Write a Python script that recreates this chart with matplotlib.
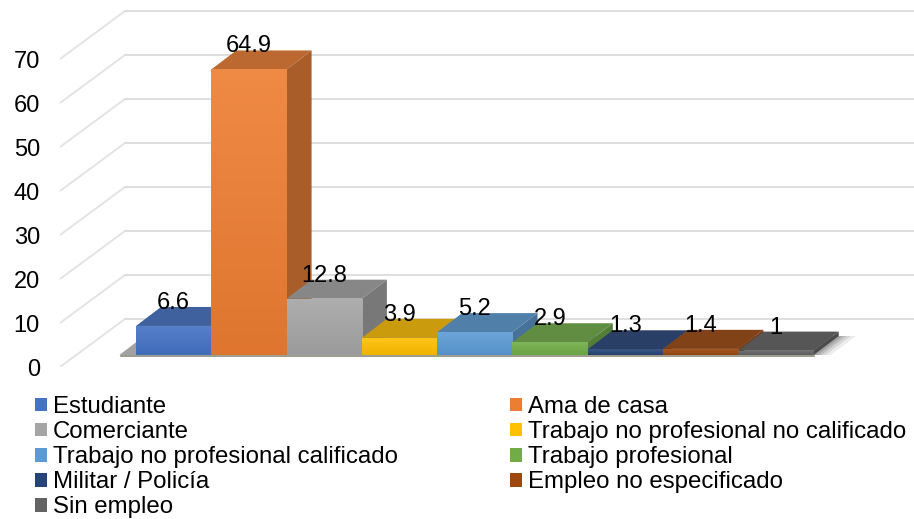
import numpy as np
import matplotlib
matplotlib.use("Agg")
import matplotlib.pyplot as plt
import matplotlib.patches as patches
from matplotlib.colors import to_rgb

plt.rcParams['font.family'] = ['Liberation Sans', 'DejaVu Sans']

categories = ["Estudiante", "Ama de casa", "Comerciante", "Trabajo no profesional no calificado",
              "Trabajo no profesional calificado", "Trabajo profesional", "Militar / Policía",
              "Empleo no especificado", "Sin empleo"]
values = [6.6, 64.9, 12.8, 3.9, 5.2, 2.9, 1.3, 1.4, 1]
value_labels = ["6.6", "64.9", "12.8", "3.9", "5.2", "2.9", "1.3", "1.4", "1"]
colors = ["#4472C4", "#ED7D31", "#A5A5A5", "#FFC000", "#5B9BD5", "#70AD47", "#264478", "#9E480E", "#636363"]
y_ticks = [0, 10, 20, 30, 40, 50, 60, 70]

# pixel scale of the picture
PX_X = 75.3  # one category
PX_Y = 4.4   # one unit of value
def dx(px):
    return px / PX_X
def dy(px):
    return px / PX_Y

fig = plt.figure(figsize=(9.14, 5.19), dpi=100)
ax = fig.add_axes([60 / 914, 152 / 519, 854 / 914, 367 / 519])
x0 = (60 - 173.65) / PX_X
x1 = (914 - 173.65) / PX_X

# walls
wall_x, wall_y = dx(65), dy(48)
for t in y_ticks:
    ax.plot([x0, x0 + wall_x], [t, t + wall_y], color="#e2e2e2", lw=1.3, zorder=1)
    ax.plot([x0 + wall_x, x1], [t + wall_y, t + wall_y], color="#dcdcdc", lw=1.3, zorder=1)

base = dy(12)      # bars stand this far behind the front edge
depth_x, depth_y = dx(25), dy(19)
x = np.arange(len(values))

# soft shadow on the floor
for grow, alpha in [(0.73, 0.10), (0.66, 0.15), (0.60, 0.20), (0.55, 0.25)]:
    s = patches.Polygon([(x[0] - 0.72, base), (x[-1] + grow, base),
                         (x[-1] + grow + depth_x, base + depth_y),
                         (x[0] - 0.72 + depth_x, base + depth_y)],
                        fc="#555555", ec="none", alpha=alpha, zorder=2)
    ax.add_patch(s)
ax.plot([x[0] - 0.7, x[-1] + 0.5], [base - 0.15, base - 0.15], color="#8a8a7a", lw=1.2, zorder=2)

for i, v in enumerate(values):
    c = np.array(to_rgb(colors[i]))
    z = 3 + i * 3
    left, right = i - 0.5, i + 0.5
    top = base + v
    ax.add_patch(patches.Polygon([(left, top), (right, top), (right + depth_x, top + depth_y),
                                  (left + depth_x, top + depth_y)], fc=c * 0.74 + 0.05, ec="none", zorder=z))
    ax.add_patch(patches.Polygon([(right, base), (right + depth_x, base + depth_y),
                                  (right + depth_x, top + depth_y), (right, top)], fc=c * 0.68 + 0.03, ec="none", zorder=z))
    bar = ax.bar(i, v, width=1, bottom=base, color="none", zorder=z + 1)[0]
    # front face gets a light to dark fade
    grad = np.linspace(0, 1, 64)[:, None, None]
    img = (c + (1 - c) * 0.1) * (1 - grad) + (c * 0.94) * grad
    im = ax.imshow(img, extent=[left, right, base, top], origin="upper", aspect="auto", zorder=z + 1)
    im.set_clip_path(bar)

for i, v in enumerate(values):
    ax.text(i, base + v + dy(23), value_labels[i], ha="center", va="center", fontsize=17, color="black", zorder=50)

ax.set_xlim(x0, x1)
ax.set_ylim(0, 367 / PX_Y)
ax.set_yticks(y_ticks)
ax.set_xticks([])
ax.tick_params(axis="y", length=0, pad=14.4, labelsize=17, colors="black")
for s in ax.spines.values():
    s.set_visible(False)
ax.patch.set_visible(False)

# legend reads row by row in the picture, matplotlib fills columns
order = list(range(0, 9, 2)) + list(range(1, 9, 2))
handles = [patches.Patch(facecolor=colors[i], label=categories[i]) for i in order]
fig.legend(handles=handles, ncol=2, frameon=False, fontsize=17.3, loc="upper left",
           bbox_to_anchor=(35 / 914, 1 - 396 / 519), borderaxespad=0, borderpad=0,
           handlelength=0.5, handleheight=0.5, handletextpad=0.25, labelspacing=0.13,
           columnspacing=4.67)

fig.savefig("out.png", dpi=100)
